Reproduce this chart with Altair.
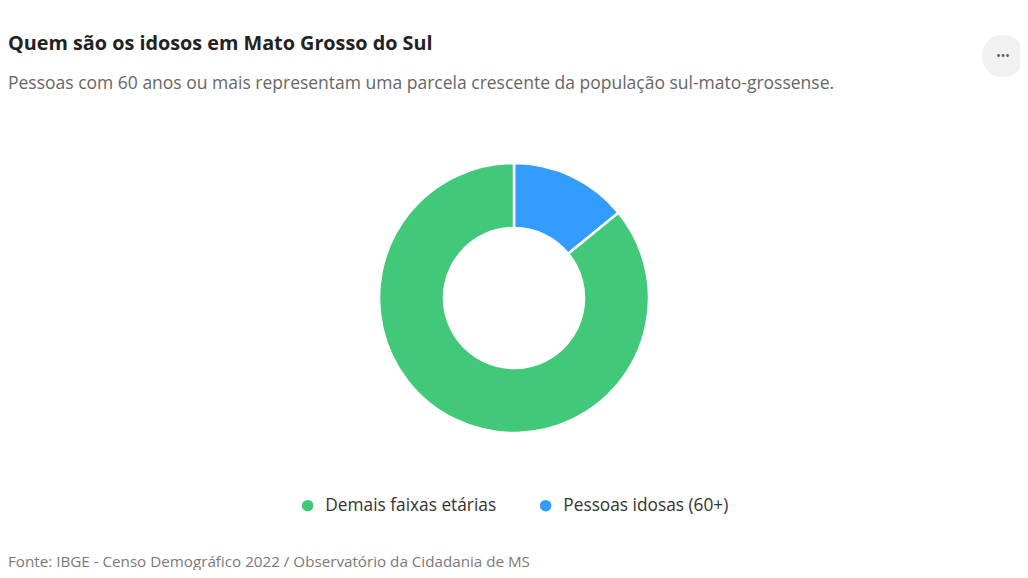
import altair as alt
import pandas as pd

# Data
categories = ["Pessoas idosas (60+)", "Demais faixas etárias"]
shares = [14.1, 85.9]
slice_order = [0, 1]
legend_order = ["Demais faixas etárias", "Pessoas idosas (60+)"]
colors = ["#41C979", "#339CFF"]

title_text = "Quem são os idosos em Mato Grosso do Sul"
subtitle_text = "Pessoas com 60 anos ou mais representam uma parcela crescente da população sul-mato-grossense."
source_text = "Fonte: IBGE - Censo Demográfico 2022 / Observatório da Cidadania de MS"

FONT = "Open Sans"
W, H = 1012, 562

df = pd.DataFrame({"categoria": categories, "valor": shares, "ordem": slice_order})

donut = alt.Chart(df).mark_arc(
    outerRadius=135, innerRadius=70, stroke="white", strokeWidth=2.5
).encode(
    theta=alt.Theta("valor:Q", stack=True),
    order=alt.Order("ordem:Q"),
    color=alt.Color(
        "categoria:N",
        scale=alt.Scale(domain=legend_order, range=colors),
        legend=alt.Legend(
            title=None,
            orient="none",
            direction="horizontal",
            legendX=291,
            legendY=489,
            padding=0,
            symbolType="circle",
            symbolSize=133,
            symbolStrokeWidth=0,
            labelFontSize=17.3,
            labelFont=FONT,
            labelColor="#333333",
            labelOffset=9,
            labelLimit=400,
            columnPadding=40,
        ),
    ),
    x=alt.value(506),
    y=alt.value(290),
)

one = pd.DataFrame({"t": [0]})

def text_layer(txt, x, y, size, color, weight="normal", align="left", font=FONT):
    return alt.Chart(one).mark_text(
        text=txt, align=align, baseline="middle", fontSize=size,
        font=font, color=color, fontWeight=weight,
    ).encode(x=alt.value(x), y=alt.value(y))

title = text_layer(title_text, 0, 36, 19.8, "#222222", weight="bold")
subtitle = text_layer(subtitle_text, 0, 76, 17.5, "#666666")
source = text_layer(source_text, 0, 554, 15.2, "#7a7a7a")

button = alt.Chart(one).mark_point(
    shape="circle", filled=True, size=1810, color="#f1f1f1", opacity=1
).encode(x=alt.value(995), y=alt.value(48))
dots = text_layer("•••", 995, 48, 12, "#555555", align="center")

chart = alt.layer(donut, title, subtitle, source, button, dots).properties(
    width=W, height=H, padding=0, autosize=alt.AutoSizeParams(type="none")
).configure(background="white").configure_view(stroke=None)

chart.save("out.html", embed_options={"renderer": "svg", "actions": False})
